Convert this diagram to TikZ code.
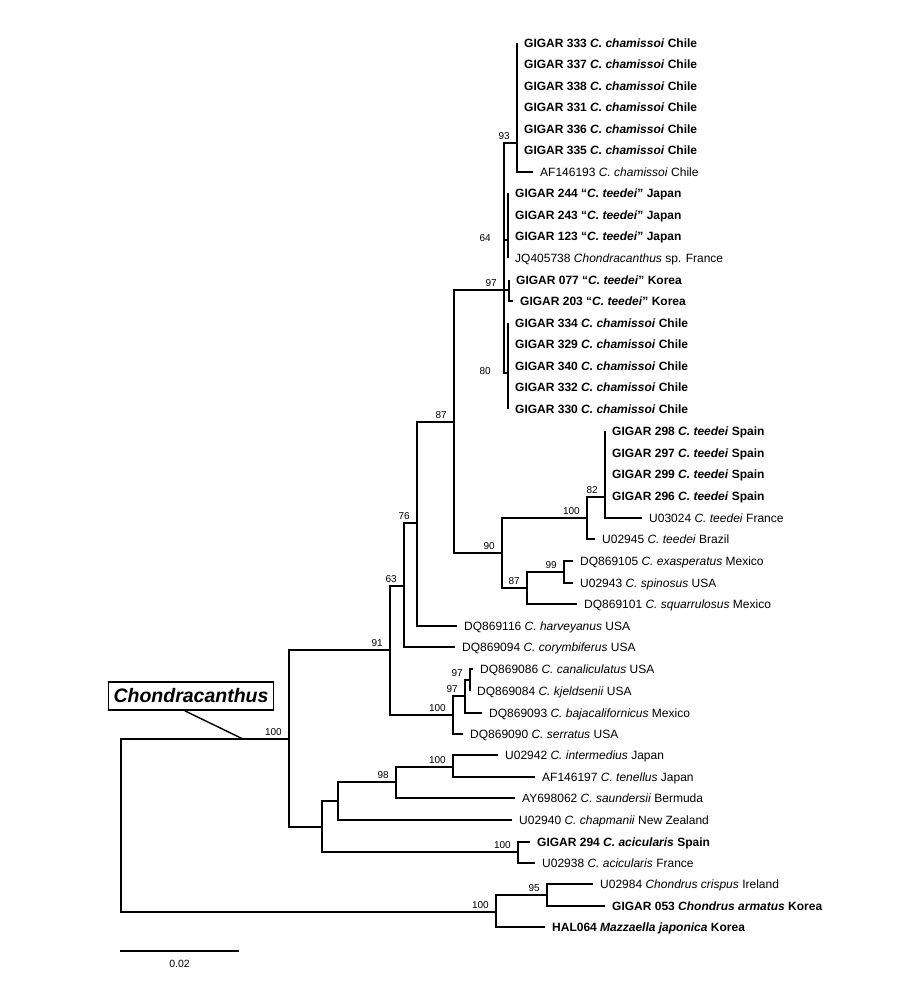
\documentclass[tikz,border=0pt]{standalone}
\usepackage{fontspec}
\setmainfont{Liberation Sans}
\usepackage{tikz}

\begin{document}
\begin{tikzpicture}[x=1pt,y=-1pt,
    branch/.style={line width=1.4pt},
    leaf/.style={anchor=west,inner xsep=7pt,inner ysep=0pt,text height=8.6pt,text depth=0pt,
      font=\fontsize{12}{14}\selectfont},
    leafb/.style={leaf,font=\fontsize{12}{14}\selectfont\bfseries},
    boot/.style={anchor=south east,inner sep=1pt,xshift=-6pt,yshift=2pt,
      font=\fontsize{10}{12}\selectfont},
    bootside/.style={boot,anchor=east,xshift=-10pt,yshift=0pt}]
  \useasboundingbox (0,0) rectangle (900,1005);

  % inner nodes of the tree
  \coordinate (root)  at (121,825);
  \coordinate (nChon) at (289,739);
  \coordinate (n91)   at (390,650);
  \coordinate (n63)   at (404,586);
  \coordinate (n76)   at (417,523);
  \coordinate (n87a)  at (454,422);
  \coordinate (n97a)  at (504,290);
  \coordinate (n93)   at (517,143);
  \coordinate (n64)   at (508,240);
  \coordinate (nKor)  at (509,290);
  \coordinate (n80)   at (508,373);
  \coordinate (n90)   at (502,553);
  \coordinate (n100t) at (587,518);
  \coordinate (n82)   at (605,497);
  \coordinate (n87b)  at (527,588);
  \coordinate (n99)   at (564,572);
  \coordinate (nCan)  at (453,715);
  \coordinate (n97b)  at (465,696);
  \coordinate (n97c)  at (470,680);
  \coordinate (nLow)  at (322,827);
  \coordinate (nLow2) at (338,801);
  \coordinate (n98)   at (396,782);
  \coordinate (nInt)  at (453,767);
  \coordinate (nAci)  at (518,852);
  \coordinate (nOut)  at (496,912);
  \coordinate (n95)   at (547,895);

  % tips
  \node[leafb] (t333) at (517,43)  {GIGAR 333 \textit{C. chamissoi} Chile};
  \node[leafb] (t337) at (517,64)  {GIGAR 337 \textit{C. chamissoi} Chile};
  \node[leafb] (t338) at (517,86)  {GIGAR 338 \textit{C. chamissoi} Chile};
  \node[leafb] (t331) at (517,107) {GIGAR 331 \textit{C. chamissoi} Chile};
  \node[leafb] (t336) at (517,129) {GIGAR 336 \textit{C. chamissoi} Chile};
  \node[leafb] (t335) at (517,150) {GIGAR 335 \textit{C. chamissoi} Chile};
  \node[leaf]  (tAF193) at (533,172) {AF146193 \textit{C. chamissoi} Chile};
  \node[leafb] (t244) at (508,193) {GIGAR 244 “\textit{C. teedei}” Japan};
  \node[leafb] (t243) at (508,215) {GIGAR 243 “\textit{C. teedei}” Japan};
  \node[leafb] (t123) at (508,236) {GIGAR 123 “\textit{C. teedei}” Japan};
  \node[leaf]  (tJQ)  at (508,258) {JQ405738 \textit{Chondracanthus} sp. France};
  \node[leafb] (t077) at (509,280) {GIGAR 077 “\textit{C. teedei}” Korea};
  \node[leafb] (t203) at (513,301) {GIGAR 203 “\textit{C. teedei}” Korea};
  \node[leafb] (t334) at (508,323) {GIGAR 334 \textit{C. chamissoi} Chile};
  \node[leafb] (t329) at (508,344) {GIGAR 329 \textit{C. chamissoi} Chile};
  \node[leafb] (t340) at (508,366) {GIGAR 340 \textit{C. chamissoi} Chile};
  \node[leafb] (t332) at (508,387) {GIGAR 332 \textit{C. chamissoi} Chile};
  \node[leafb] (t330) at (508,409) {GIGAR 330 \textit{C. chamissoi} Chile};
  \node[leafb] (t298) at (605,431) {GIGAR 298 \textit{C. teedei} Spain};
  \node[leafb] (t297) at (605,453) {GIGAR 297 \textit{C. teedei} Spain};
  \node[leafb] (t299) at (605,474) {GIGAR 299 \textit{C. teedei} Spain};
  \node[leafb] (t296) at (605,496) {GIGAR 296 \textit{C. teedei} Spain};
  \node[leaf]  (tU024) at (642,518) {U03024 \textit{C. teedei} France};
  \node[leaf]  (tU945) at (595,539) {U02945 \textit{C. teedei} Brazil};
  \node[leaf]  (tD105) at (573,561) {DQ869105 \textit{C. exasperatus} Mexico};
  \node[leaf]  (tU943) at (573,583) {U02943 \textit{C. spinosus} USA};
  \node[leaf]  (tD101) at (577,604) {DQ869101 \textit{C. squarrulosus} Mexico};
  \node[leaf]  (tD116) at (457,626) {DQ869116 \textit{C. harveyanus} USA};
  \node[leaf]  (tD094) at (455,647) {DQ869094 \textit{C. corymbiferus} USA};
  \node[leaf]  (tD086) at (473,669) {DQ869086 \textit{C. canaliculatus} USA};
  \node[leaf]  (tD084) at (470,691) {DQ869084 \textit{C. kjeldsenii} USA};
  \node[leaf]  (tD093) at (482,713) {DQ869093 \textit{C. bajacalifornicus} Mexico};
  \node[leaf]  (tD090) at (463,734) {DQ869090 \textit{C. serratus} USA};
  \node[leaf]  (tU942) at (498,755) {U02942 \textit{C. intermedius} Japan};
  \node[leaf]  (tAF197) at (535,777) {AF146197 \textit{C. tenellus} Japan};
  \node[leaf]  (tAY)  at (515,798) {AY698062 \textit{C. saundersii} Bermuda};
  \node[leaf]  (tU940) at (512,820) {U02940 \textit{C. chapmanii} New Zealand};
  \node[leafb] (t294) at (530,842) {GIGAR 294 \textit{C. acicularis} Spain};
  \node[leaf]  (tU938) at (535,863) {U02938 \textit{C. acicularis} France};
  \node[leaf]  (tU984) at (593,884) {U02984 \textit{Chondrus crispus} Ireland};
  \node[leafb] (t053) at (605,906) {GIGAR 053 \textit{Chondrus armatus} Korea};
  \node[leafb] (tHAL) at (545,927) {HAL064 \textit{Mazzaella japonica} Korea};

  % branches
  \foreach \c/\p in {nChon/root,nOut/root,n91/nChon,nLow/nChon,n63/n91,nCan/n91,
      n76/n63,n87a/n76,n97a/n87a,n90/n87a,n93/n97a,n64/n97a,nKor/n97a,n80/n97a,
      n100t/n90,n87b/n90,n82/n100t,n99/n87b,n97b/nCan,n97c/n97b,nLow2/nLow,
      nAci/nLow,n98/nLow2,nInt/n98,n95/nOut}
    \draw[branch] (\c) -| (\p);
  \foreach \c/\p in {t333/n93,t337/n93,t338/n93,t331/n93,t336/n93,t335/n93,tAF193/n93,
      t244/n64,t243/n64,t123/n64,tJQ/n64,t077/nKor,t203/nKor,
      t334/n80,t329/n80,t340/n80,t332/n80,t330/n80,
      t298/n82,t297/n82,t299/n82,t296/n82,tU024/n82,tU945/n100t,
      tD105/n99,tU943/n99,tD101/n87b,tD116/n76,tD094/n63,
      tD086/n97c,tD084/n97c,tD093/n97b,tD090/nCan,
      tU942/nInt,tAF197/nInt,tAY/n98,tU940/nLow2,t294/nAci,tU938/nAci,
      tU984/n95,t053/n95,tHAL/nOut}
    \draw[branch] (\c.west) -| (\p);

  % bootstrap values
  \node[boot] (sChon) at (nChon) {100};
  \node[boot] (s91)  at (n91)  {91};
  \node[boot] (s63)  at (n63)  {63};
  \node[boot] (s76)  at (n76)  {76};
  \node[boot] (s87a) at (n87a) {87};
  \node[boot] (s97a) at (n97a) {97};
  \node[boot] (s93)  at (n93)  {93};
  \node[bootside] (s64) at (n64) {64};
  \node[bootside] (s80) at (n80) {80};
  \node[boot] (s90)  at (n90)  {90};
  \node[boot] (s100t) at (n100t) {100};
  \node[boot] (s82)  at (n82)  {82};
  \node[boot] (s87b) at (n87b) {87};
  \node[boot] (s99)  at (n99)  {99};
  \node[boot] (sCan) at (nCan) {100};
  \node[boot] (s97b) at (n97b) {97};
  \node[boot] (s97c) at (n97c) {97};
  \node[boot] (s98)  at (n98)  {98};
  \node[boot] (sInt) at (nInt) {100};
  \node[boot] (sAci) at (nAci) {100};
  \node[boot] (sOut) at (nOut) {100};
  \node[boot] (s95)  at (n95)  {95};

  % genus box
  \node[draw,line width=1.8pt,inner xsep=5pt,minimum height=28pt,
    font=\fontsize{19.5}{22}\selectfont\bfseries\itshape] (chbox) at (191,696) {Chondracanthus};
  \coordinate (chpt) at (243,739);
  \draw[branch] ([xshift=-6pt]chbox.south) -- (chpt);

  % scale bar
  \coordinate (sbl) at (120,951);
  \coordinate (sbr) at (239,951);
  \draw[branch] (sbl) -- (sbr) node[midway,below=7pt,inner sep=1pt,
    font=\fontsize{10.5}{12}\selectfont] (sbtxt) {0.02};
\end{tikzpicture}
\end{document}
